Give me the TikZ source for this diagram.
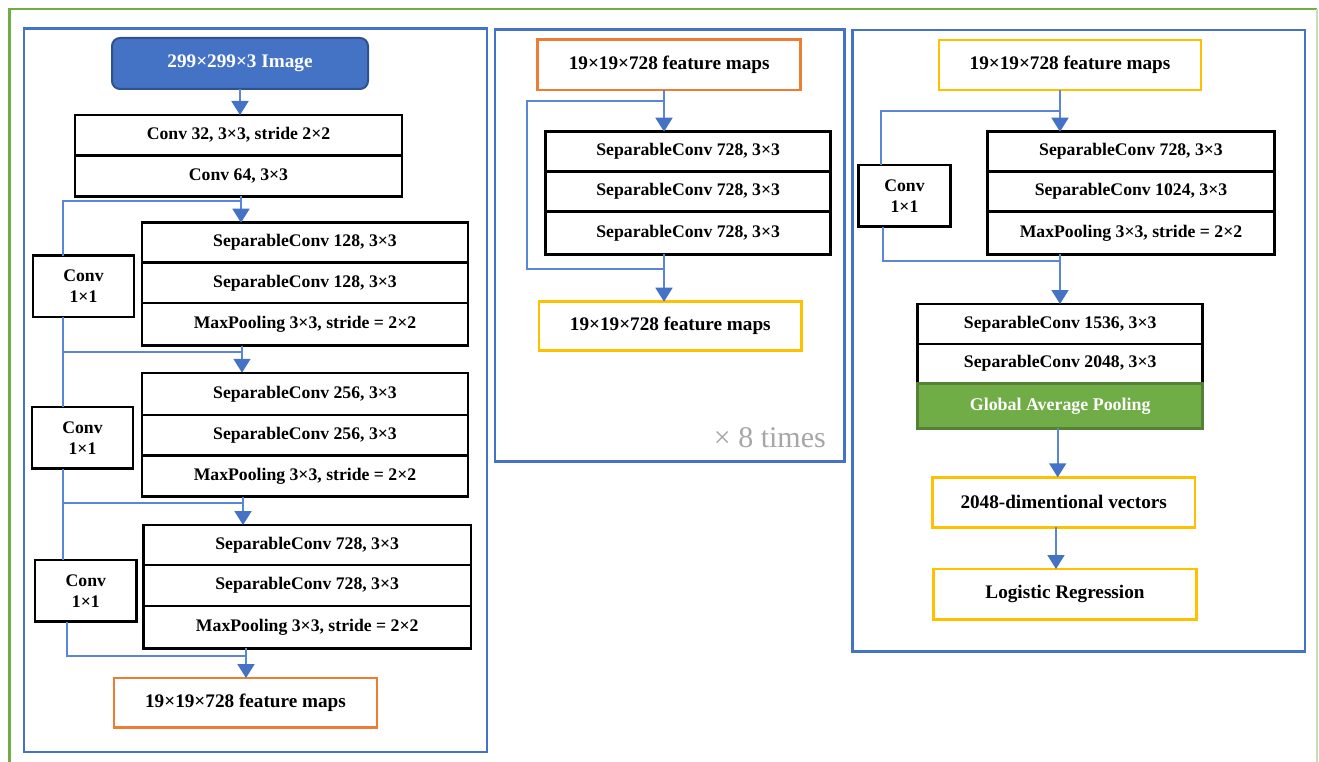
\documentclass[tikz,border=0pt]{standalone}
\usepackage{fontspec}
\setmainfont{Liberation Serif}
\usetikzlibrary{arrows.meta}
\definecolor{panelblue}{HTML}{4472C4}
\definecolor{linkblue}{HTML}{5B86D6}
\definecolor{imgedge}{HTML}{2F528F}
\definecolor{mapsorange}{HTML}{ED7D31}
\definecolor{mapsyellow}{HTML}{FFC000}
\definecolor{gapgreen}{HTML}{70AD47}
\definecolor{gapedge}{HTML}{548235}
\definecolor{framegreen}{HTML}{70AD47}
\definecolor{framelight}{HTML}{C5E0B4}
\definecolor{repgray}{HTML}{A6A6A6}
\tikzset{
  layer/.style={draw=black, line width=2.5pt, fill=white, inner sep=0pt, outer sep=0pt,
    font=\fontsize{17.7}{21}\selectfont\bfseries, align=center},
  shortcut/.style={layer},
  maps/.style={draw=#1, line width=2.5pt, inner sep=0pt, outer sep=0pt,
    font=\fontsize{19.2}{22}\selectfont\bfseries},
  imagebox/.style={draw=imgedge, fill=panelblue, line width=2pt, rounded corners=8pt,
    inner sep=0pt, outer sep=0pt, text=white, font=\fontsize{19.2}{22}\selectfont\bfseries},
  poolbox/.style={draw=gapedge, fill=gapgreen, line width=2.5pt, inner sep=0pt, outer sep=0pt,
    text=white, font=\fontsize{17.9}{21}\selectfont\bfseries},
  panel/.style={draw=panelblue, line width=2.8pt},
  link/.style={draw=linkblue, line width=1.8pt},
  flow/.style={link, arrows={-{Triangle[width=17pt,length=14pt,fill=panelblue,color=panelblue]}}},
}
\begin{document}
\begin{tikzpicture}[x=1pt,y=-1pt]
\useasboundingbox (0,0) rectangle (1319,762);

% outer frame (open at the bottom)
\draw[framegreen, line width=2.4pt] (9.3,775) -- (9.3,9.3) -- (1317.3,9.3);
\draw[framelight, line width=1.8pt] (1317.3,9.3) -- (1317.3,775);

% three panels
\draw[panel] (24,28.5) rectangle (487,752);
\draw[panel] (495,29.3) rectangle (844.3,461.7);
\draw[panel] (852.7,30) rectangle (1305,651.7);

% ---------------- entry flow ----------------
\node[imagebox, minimum width=256pt, minimum height=51pt] (img) at (240,63.5) {299×299×3 Image};
\node[layer, minimum width=327pt, minimum height=40pt] (c32) at (238.5,135) {Conv 32, 3×3, stride 2×2};
\node[layer, minimum width=327pt, minimum height=41pt] (c64) at (238.5,176) {Conv 64, 3×3};

\node[layer, minimum width=326pt, minimum height=40pt]   (s1a) at (305,242.7) {SeparableConv 128, 3×3};
\node[layer, minimum width=326pt, minimum height=40.3pt] (s1b) at (305,282.9) {SeparableConv 128, 3×3};
\node[layer, minimum width=326pt, minimum height=42.7pt] (s1c) at (305,324.3) {MaxPooling 3×3, stride = 2×2};
\node[shortcut, minimum width=101pt, minimum height=61.3pt] (k1) at (83.5,286.3) {Conv\\1×1};

\node[layer, minimum width=326pt, minimum height=42.3pt] (s2a) at (305,393.9) {SeparableConv 256, 3×3};
\node[layer, minimum width=326pt, minimum height=40.7pt] (s2b) at (305,435.3) {SeparableConv 256, 3×3};
\node[layer, minimum width=326pt, minimum height=41pt]   (s2c) at (305,476.2) {MaxPooling 3×3, stride = 2×2};
\node[shortcut, minimum width=101pt, minimum height=61.7pt] (k2) at (82.5,437.8) {Conv\\1×1};

\node[layer, minimum width=327.7pt, minimum height=40pt]   (s3a) at (307.2,545) {SeparableConv 728, 3×3};
\node[layer, minimum width=327.7pt, minimum height=41pt]   (s3b) at (307.2,585.5) {SeparableConv 728, 3×3};
\node[layer, minimum width=327.7pt, minimum height=42.3pt] (s3c) at (307.2,627.2) {MaxPooling 3×3, stride = 2×2};
\node[shortcut, minimum width=101.7pt, minimum height=61.7pt] (k3) at (85.8,590.8) {Conv\\1×1};

\node[maps=mapsorange, minimum width=263pt, minimum height=49.3pt] (fm1) at (245.5,702.7) {19×19×728 feature maps};

\coordinate (b1) at (241,201);   \coordinate (L1) at (63,201);
\coordinate (b2) at (242,352);   \coordinate (L2) at (63,352);
\coordinate (b3) at (243,503);   \coordinate (L3) at (63,503);
\coordinate (b4) at (246,656);   \coordinate (L4) at (66.7,656);

\draw[flow] (img.south) -- (img.south |- c32.north);
\draw[link] (b1) -- (L1) -- (L1 |- k1.north);
\draw[flow] (c64.south -| b1) -- (b1 |- s1a.north);
\draw[link] (L1 |- k1.south) -- (L2) -- (b2);
\draw[link] (L2) -- (L2 |- k2.north);
\draw[flow] (s1c.south -| b2) -- (b2 |- s2a.north);
\draw[link] (L2 |- k2.south) -- (L3) -- (b3);
\draw[link] (L3) -- (L3 |- k3.north);
\draw[flow] (s2c.south -| b3) -- (b3 |- s3a.north);
\draw[link] (L4 |- k3.south) -- (L4) -- (b4);
\draw[flow] (s3c.south -| b4) -- (b4 |- fm1.north);

% ---------------- middle flow ----------------
\node[maps=mapsorange, minimum width=263pt, minimum height=50.7pt] (fmA) at (669.2,64.7) {19×19×728 feature maps};
\node[layer, minimum width=285pt, minimum height=40pt]   (m1) at (688.2,151.7) {SeparableConv 728, 3×3};
\node[layer, minimum width=285pt, minimum height=40pt]   (m2) at (688.2,191.7) {SeparableConv 728, 3×3};
\node[layer, minimum width=285pt, minimum height=42.6pt] (m3) at (688.2,233) {SeparableConv 728, 3×3};
\node[maps=mapsyellow, minimum width=262.7pt, minimum height=49pt] (fmB) at (670.3,326.2) {19×19×728 feature maps};
\node[text=repgray, font=\fontsize{30}{32}\selectfont, anchor=base east, inner sep=0pt] (rep) at (826,447) {× 8 times};

\coordinate (mb1) at (664,100.7);  \coordinate (mL1) at (527.3,100.7);
\coordinate (mb2) at (664,269.3);  \coordinate (mL2) at (527.3,269.3);
\draw[flow] (fmA.south -| mb1) -- (mb1 |- m1.north);
\draw[link] (mb1) -- (mL1) -- (mL2) -- (mb2);
\draw[flow] (m3.south -| mb2) -- (mb2 |- fmB.north);

% ---------------- exit flow ----------------
\node[maps=mapsyellow, minimum width=262pt, minimum height=50pt] (fmC) at (1070,65) {19×19×728 feature maps};
\node[layer, minimum width=286.6pt, minimum height=40pt]   (r1) at (1131,151.7) {SeparableConv 728, 3×3};
\node[layer, minimum width=286.6pt, minimum height=40pt]   (r2) at (1131,191.7) {SeparableConv 1024, 3×3};
\node[layer, minimum width=286.6pt, minimum height=42.6pt] (r3) at (1131,233) {MaxPooling 3×3, stride = 2×2};
\node[shortcut, minimum width=92.4pt, minimum height=61.7pt] (kr) at (904.5,195.8) {Conv\\1×1};

\node[layer, minimum width=285pt, minimum height=40pt]   (q1) at (1060.2,324) {SeparableConv 1536, 3×3};
\node[layer, minimum width=285pt, minimum height=39.3pt] (q2) at (1060.2,363.7) {SeparableConv 2048, 3×3};
\node[poolbox, minimum width=285pt, minimum height=45pt] (gap) at (1060.2,405.8) {Global Average Pooling};
\node[maps=mapsyellow, minimum width=262.7pt, minimum height=50pt] (vec) at (1063.7,502.3) {2048-dimentional vectors};
\node[maps=mapsyellow, minimum width=263.4pt, minimum height=50.3pt] (lr) at (1065,594.2) {Logistic Regression};

\coordinate (rb1) at (1060,110.7);  \coordinate (rL1) at (880.7,110.7);
\coordinate (rb2) at (1060,261);    \coordinate (rL2) at (883.3,261);
\coordinate (rb3) at (1057.7,0);    \coordinate (rb4) at (1056,0);
\draw[flow] (fmC.south -| rb1) -- (rb1 |- r1.north);
\draw[link] (rb1) -- (rL1) -- (rL1 |- kr.north);
\draw[link] (rL2 |- kr.south) -- (rL2) -- (rb2);
\draw[flow] (r3.south -| rb2) -- (rb2 |- q1.north);
\draw[flow] (gap.south -| rb3) -- (rb3 |- vec.north);
\draw[flow] (vec.south -| rb4) -- (rb4 |- lr.north);
\end{tikzpicture}
\end{document}
